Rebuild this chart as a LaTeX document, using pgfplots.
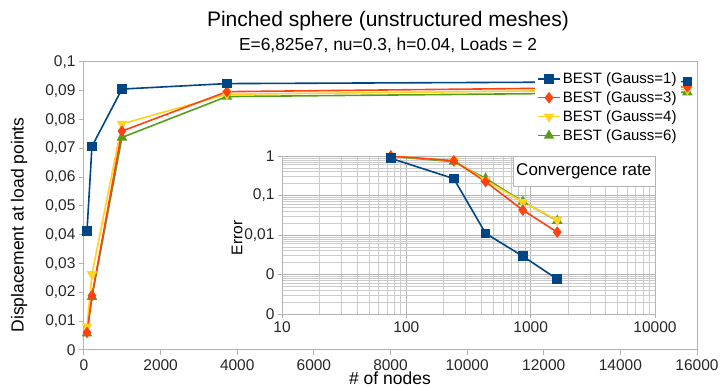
\documentclass[border=0pt]{standalone}
\usepackage{fontspec}
\setmainfont{Liberation Sans}
\usepackage{pgfplots}
\pgfplotsset{compat=1.18}
\definecolor{cblue}{HTML}{004586}
\definecolor{cred}{HTML}{FF420E}
\definecolor{cyel}{HTML}{FFD320}
\definecolor{cgreen}{HTML}{579D1C}
\definecolor{axgray}{HTML}{B3B3B3}
\definecolor{gridgray}{HTML}{CCCCCC}
\pgfplotsset{
  sblue/.style={cblue, line width=1.6pt, mark=square*, mark size=4pt, mark options={solid,fill=cblue}},
  sred/.style={cred, line width=1.6pt, mark=diamond*, mark size=4.5pt, mark options={solid,fill=cred}},
  syel/.style={cyel, line width=1.6pt, mark=triangle*, mark size=4.5pt, mark options={solid,fill=cyel,rotate=180}},
  sgreen/.style={cgreen, line width=1.6pt, mark=triangle*, mark size=4.5pt, mark options={solid,fill=cgreen}},
}
\begin{document}
\begin{tikzpicture}[x=1pt,y=1pt]
\path[use as bounding box] (0,0) rectangle (720,388);
\node at (388,367) {\fontsize{21}{24}\selectfont Pinched sphere (unstructured meshes)};
\node at (388,343) {\fontsize{17.4}{20}\selectfont E=6,825e7, nu=0.3, h=0.04, Loads = 2};
\node at (390,10) {\fontsize{17.5}{20}\selectfont \# of nodes};
\node[rotate=90] at (19,163) {\fontsize{17.5}{20}\selectfont Displacement at load points};
\begin{axis}[at={(84pt,38pt)}, anchor=south west, scale only axis,
  width=613pt, height=288pt,
  xmin=0, xmax=16000, ymin=0, ymax=0.1,
  scaled x ticks=false, scaled y ticks=false,
  axis line style={axgray, line width=1pt},
  tick style={axgray, line width=1pt},
  tick align=outside, major tick length=5pt,
  xtick pos=lower, ytick pos=left,
  xtick={0,2000,4000,6000,8000,10000,12000,14000,16000},
  xticklabels={0,2000,4000,6000,8000,10000,12000,14000,16000},
  ytick={0,0.01,0.02,0.03,0.04,0.05,0.06,0.07,0.08,0.09,0.1},
  yticklabels={0,{0,01},{0,02},{0,03},{0,04},{0,05},{0,06},{0,07},{0,08},{0,09},{0,1}},
  ticklabel style={font=\fontsize{15.5}{17}\selectfont, text=black!85},
  xticklabel style={yshift=-1pt},
  legend style={at={(0.7357,0.978)}, anchor=north west, fill=white, draw=none,
    font=\fontsize{15}{17}\selectfont, row sep=2.6pt, inner sep=2pt},
  legend cell align=left,
  legend image code/.code={\draw[mark repeat=2,mark phase=2] plot coordinates {(0pt,0pt)(11pt,0pt)(22pt,0pt)};},
]
\addplot[sgreen, forget plot] coordinates {(78,0.0058)(208,0.0185)(990,0.0738)(3730,0.0880)(15750,0.0895)};
\addplot[syel, forget plot] coordinates {(78,0.0081)(208,0.0263)(990,0.0785)(3730,0.0888)(15750,0.0905)};
\addplot[sred, forget plot] coordinates {(78,0.0061)(208,0.0189)(990,0.0760)(3730,0.0897)(15750,0.0914)};
\addplot[sblue, forget plot] coordinates {(78,0.0413)(208,0.0707)(990,0.0906)(3730,0.0925)(15750,0.0932)};
\addlegendimage{sblue}\addlegendentry{BEST (Gauss=1)}
\addlegendimage{sred}\addlegendentry{BEST (Gauss=3)}
\addlegendimage{syel}\addlegendentry{BEST (Gauss=4)}
\addlegendimage{sgreen}\addlegendentry{BEST (Gauss=6)}
\end{axis}
\begin{axis}[at={(282pt,74pt)}, anchor=south west, scale only axis,
  width=373pt, height=158pt,
  xmode=log, ymode=log,
  xmin=10, xmax=10000, ymin=1e-4, ymax=1,
  axis background/.style={fill=white},
  axis line style={axgray, line width=0.8pt},
  tick style={axgray, line width=0.8pt},
  tick align=outside, major tick length=4pt, minor tick length=0pt,
  xtick pos=lower, ytick pos=left,
  grid=both,
  major grid style={axgray, line width=0.8pt},
  minor grid style={gridgray, line width=0.6pt},
  xtick={10,100,1000,10000},
  xticklabels={10,100,1000,10000},
  ytick={1e-4,1e-3,1e-2,1e-1,1},
  yticklabels={0,0,{0,01},{0,1},1},
  ticklabel style={font=\fontsize{15.5}{17}\selectfont, text=black!85},
]
\addplot[sgreen] coordinates {(75,0.98)(241,0.72)(434,0.27)(865,0.070)(1637,0.023)};
\addplot[syel] coordinates {(75,1.0)(241,0.76)(434,0.245)(865,0.068)(1637,0.024)};
\addplot[sred] coordinates {(75,1.0)(241,0.76)(434,0.224)(865,0.0426)(1637,0.0118)};
\addplot[sblue] coordinates {(75,0.875)(241,0.267)(434,0.011)(865,0.0029)(1637,0.00076)};
\node[draw=axgray, fill=white, minimum width=142pt, minimum height=30pt, anchor=north east, inner sep=0pt,
  font=\fontsize{17}{19}\selectfont] at (rel axis cs:1,1) {Convergence rate};
\end{axis}
\node[rotate=90] at (237,150) {\fontsize{15.5}{17}\selectfont Error};
\end{tikzpicture}
\end{document}
